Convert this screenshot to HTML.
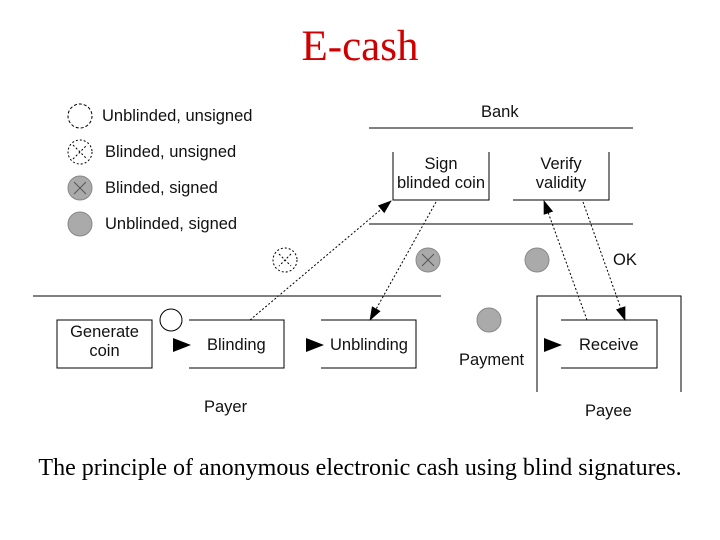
<!DOCTYPE html>
<html><head><style>
body{margin:0;width:720px;height:540px;background:#fff;overflow:hidden;position:relative}
.t{position:absolute;font-family:"Liberation Sans",sans-serif;font-size:16.5px;color:#111;white-space:nowrap}
</style></head><body>
<div style="position:absolute;top:22px;width:720px;text-align:center;font-family:'Liberation Serif',serif;font-size:43px;color:#d00000">E-cash</div>
<div style="position:absolute;top:455px;width:720px;text-align:center;font-family:'Liberation Serif',serif;font-size:24px;color:#000">The principle of anonymous electronic cash using blind signatures.</div>
<svg width="720" height="540" style="position:absolute;left:0;top:0" stroke="#000" fill="none" stroke-width="1">
<defs><marker id="a" markerWidth="14" markerHeight="10" refX="13" refY="5" orient="auto" markerUnits="userSpaceOnUse"><path d="M0,0 L14,5 L0,10 Z" fill="#000" stroke="none"/></marker></defs>
<circle cx="80" cy="116" r="12" stroke-dasharray="3,2"/>
<circle cx="80" cy="152" r="12" stroke-dasharray="2,2"/><line x1="73" y1="159" x2="87" y2="145" stroke-dasharray="2,2"/><line x1="73" y1="145" x2="87" y2="159" stroke-dasharray="2,2"/>
<circle cx="80" cy="188" r="12" fill="#aaa" stroke="#888"/><line x1="74" y1="182" x2="86" y2="194" stroke="#555"/><line x1="86" y1="182" x2="74" y2="194" stroke="#555"/>
<circle cx="80" cy="224" r="12" fill="#aaa" stroke="#888"/>
<line x1="369" y1="128" x2="633" y2="128"/>
<line x1="369" y1="224" x2="633" y2="224"/>
<line x1="33" y1="296" x2="441" y2="296"/>
<path d="M393,152 V200 H489 V152"/>
<path d="M513,200 H609 V152"/>
<rect x="57" y="320" width="95" height="48"/>
<path d="M189,320 H284 V368 H189"/>
<path d="M321,320 H416 V368 H321"/>
<path d="M537,392 V296 H681 V392"/>
<path d="M561,320 H657 V368 H561"/>
<circle cx="171" cy="320" r="11"/>
<circle cx="285" cy="260" r="12" stroke-dasharray="2,2"/><line x1="279" y1="254" x2="291" y2="266" stroke-dasharray="2,2"/><line x1="291" y1="254" x2="279" y2="266" stroke-dasharray="2,2"/>
<circle cx="428" cy="260" r="12" fill="#aaa" stroke="#888"/><line x1="422" y1="254" x2="434" y2="266" stroke="#555"/><line x1="434" y1="254" x2="422" y2="266" stroke="#555"/>
<circle cx="537" cy="260" r="12" fill="#aaa" stroke="#888"/>
<circle cx="489" cy="320" r="12" fill="#aaa" stroke="#888"/>
<g stroke-dasharray="2,2" marker-end="url(#a)">
<line x1="250" y1="320" x2="391" y2="201"/>
<line x1="436" y1="202" x2="370" y2="320"/>
<line x1="587" y1="320" x2="544" y2="201"/>
<line x1="583" y1="202" x2="625" y2="320"/>
</g>
<path d="M173,338 L191,345 L173,352 Z" fill="#000" stroke="none"/>
<path d="M306,338 L324,345 L306,352 Z" fill="#000" stroke="none"/>
<path d="M544,338 L562,345 L544,352 Z" fill="#000" stroke="none"/>
</svg>
<div class="t" style="left:102px;top:107px">Unblinded, unsigned</div>
<div class="t" style="left:105px;top:143px">Blinded, unsigned</div>
<div class="t" style="left:105px;top:179px">Blinded, signed</div>
<div class="t" style="left:105px;top:215px">Unblinded, signed</div>
<div class="t" style="left:481px;top:103px">Bank</div>
<div class="t" style="left:391px;top:155px;width:100px;text-align:center;line-height:19px">Sign<br>blinded coin</div>
<div class="t" style="left:513px;top:155px;width:96px;text-align:center;line-height:19px">Verify<br>validity</div>
<div class="t" style="left:613px;top:251px">OK</div>
<div class="t" style="left:57px;top:323px;width:95px;text-align:center;line-height:19px">Generate<br>coin</div>
<div class="t" style="left:207px;top:336px">Blinding</div>
<div class="t" style="left:330px;top:336px">Unblinding</div>
<div class="t" style="left:459px;top:351px">Payment</div>
<div class="t" style="left:579px;top:336px">Receive</div>
<div class="t" style="left:204px;top:398px">Payer</div>
<div class="t" style="left:585px;top:402px">Payee</div>
</body></html>
